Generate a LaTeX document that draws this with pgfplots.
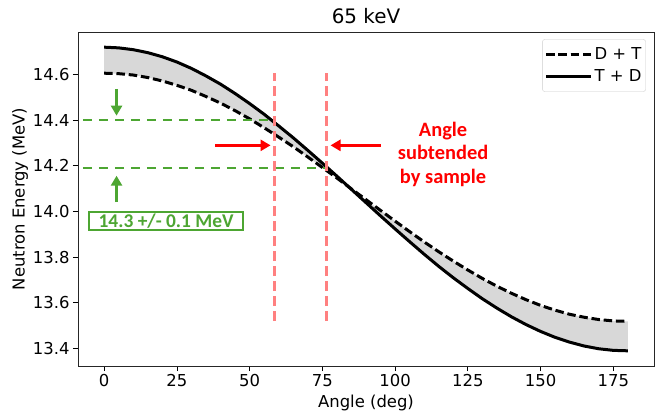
\documentclass[border=0pt]{standalone}
\usepackage{pgfplots}
\pgfplotsset{compat=1.18}
\usepgfplotslibrary{fillbetween}
\usetikzlibrary{arrows.meta}
\usepackage{fontspec}
\setmainfont{DejaVu Sans}
\newfontfamily\carlito{Carlito}
\definecolor{grn}{RGB}{77,166,50}
\definecolor{lred}{RGB}{255,128,128}
\definecolor{fillg}{RGB}{216,216,216}
\begin{document}
\begin{tikzpicture}
\begin{axis}[
  name=ax,
  scale only axis,
  width=576bp, height=334bp,
  xmin=-9, xmax=189, ymin=13.3235, ymax=14.7865,
  xtick={0,25,50,75,100,125,150,175},
  ytick={13.4,13.6,13.8,14.0,14.2,14.4,14.6},
  yticklabel style={/pgf/number format/.cd, fixed, precision=1, fixed zerofill},
  /pgf/number format/assume math mode=true,
  tick pos=left,
  tick align=outside,
  major tick length=5bp,
  every tick/.style={black, line width=0.8bp},
  axis line style={black!85, line width=0.9bp},
  ticklabel style={font=\fontsize{16.5}{19}\selectfont},
  label style={font=\fontsize{16.5}{19}\selectfont},
  xlabel={Angle (deg)},
  ylabel={Neutron Energy (MeV)},
  xlabel style={yshift=-1bp},
  ylabel style={yshift=-2bp},
  legend style={at={(0.9856,0.978)}, anchor=north east, draw=black!20, rounded corners=2bp,
    fill=white, font=\fontsize{16.5}{19}\selectfont, inner xsep=2bp, inner ysep=6bp,
    row sep=5bp},
  legend cell align=left,
  legend image code/.code={\draw[#1] (0bp,0bp) -- (37bp,0bp); \path (0bp,0bp) -- (45bp,0bp);},
]
\addplot[name path=DT, black, line width=3bp, dash pattern=on 8.5bp off 3.8bp] coordinates {
(0,14.606)(5,14.604)(10,14.598)(15,14.587)(20,14.572)(25,14.553)(30,14.531)(35,14.504)
(40,14.475)(45,14.442)(50,14.406)(55,14.367)(60,14.326)(65,14.284)(70,14.239)(75,14.193)
(80,14.147)(85,14.099)(90,14.052)(95,14.005)(100,13.958)(105,13.912)(110,13.867)(115,13.824)
(120,13.783)(125,13.744)(130,13.707)(135,13.673)(140,13.642)(145,13.614)(150,13.589)
(155,13.568)(160,13.550)(165,13.537)(170,13.527)(175,13.521)(180,13.519)};
\addlegendentry{D + T}
\addplot[name path=TD, black, line width=3bp] coordinates {
(0,14.720)(5,14.717)(10,14.709)(15,14.696)(20,14.678)(25,14.655)(30,14.627)(35,14.594)
(40,14.558)(45,14.517)(50,14.473)(55,14.426)(60,14.375)(65,14.323)(70,14.268)(75,14.212)
(80,14.155)(85,14.097)(90,14.039)(95,13.981)(100,13.924)(105,13.868)(110,13.813)(115,13.760)
(120,13.710)(125,13.663)(130,13.618)(135,13.577)(140,13.539)(145,13.505)(150,13.475)
(155,13.449)(160,13.428)(165,13.411)(170,13.399)(175,13.392)(180,13.390)};
\addlegendentry{T + D}
\addplot[fill=fillg, draw=none, forget plot] fill between[of=DT and TD];
% green energy window lines
\addplot[grn, line width=2.3bp, dash pattern=on 9.5bp off 6.5bp, forget plot] coordinates {(-7.3,14.40)(58.6,14.40)};
\addplot[grn, line width=2.3bp, dash pattern=on 9.5bp off 6.5bp, forget plot] coordinates {(-7.3,14.19)(76.3,14.19)};
% red angle lines
\addplot[lred, line width=3.2bp, dash pattern=on 10bp off 5bp, forget plot] coordinates {(58.6,13.52)(58.6,14.607)};
\addplot[lred, line width=3.2bp, dash pattern=on 10bp off 5bp, forget plot] coordinates {(76.3,13.52)(76.3,14.607)};
% arrows
\draw[red, line width=3.3bp, -{Triangle[length=10bp,width=11bp]}] (axis cs:38.2,14.290) -- (axis cs:57.2,14.290);
\draw[red, line width=3.3bp, -{Triangle[length=10bp,width=11bp]}] (axis cs:95.0,14.290) -- (axis cs:77.8,14.290);
\draw[grn, line width=3.8bp, -{Triangle[length=10bp,width=11bp]}] (axis cs:4.25,14.537) -- (axis cs:4.25,14.420);
\draw[grn, line width=3.8bp, -{Triangle[length=10bp,width=11bp]}] (axis cs:4.25,14.041) -- (axis cs:4.25,14.157);
% annotations
\node[text=red, align=center, font=\carlito\bfseries\fontsize{20.5}{23.5}\selectfont] at (axis cs:116.5,14.251)
  {Angle\\subtended\\by sample};
\node[draw=grn, line width=2.2bp, fill=white, text=grn, minimum width=154bp, minimum height=18bp, inner sep=0pt,
  font=\carlito\bfseries\fontsize{19.5}{22}\selectfont] at (axis cs:21.3,13.957) {14.3 +/- 0.1 MeV};
\end{axis}
\node[anchor=base, font=\fontsize{20}{23}\selectfont] at ([yshift=8bp]ax.north) {65 keV};
\pgfresetboundingbox
\path ([shift={(-78bp,-48bp)}]ax.south west) rectangle ([shift={(4bp,32bp)}]ax.north east);
\end{tikzpicture}
\end{document}
